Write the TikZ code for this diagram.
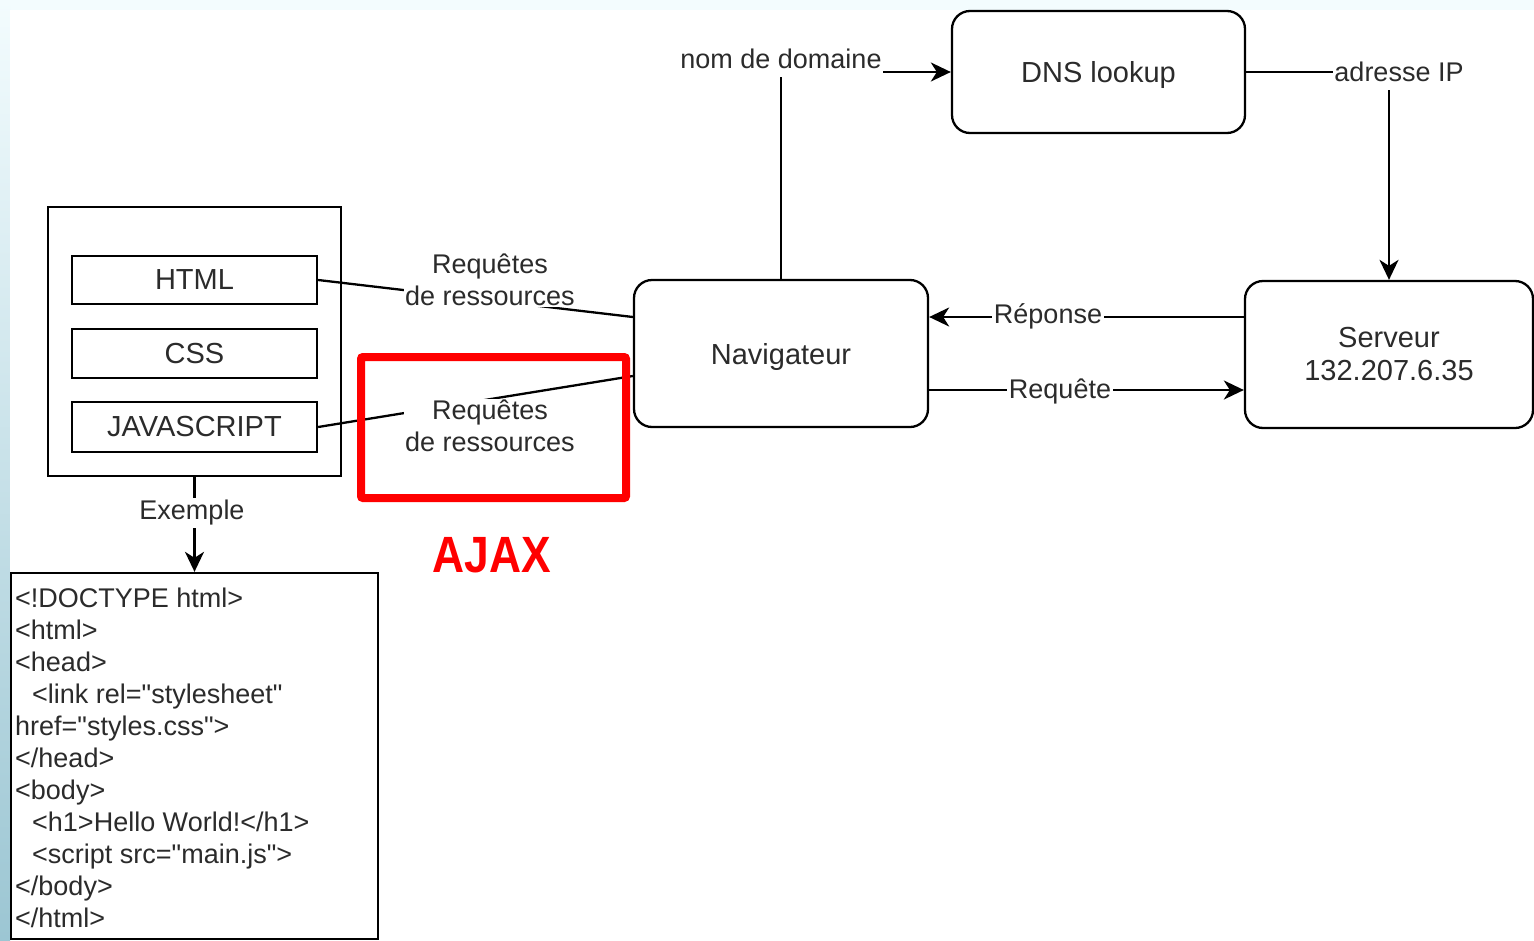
\documentclass[tikz,border=0pt]{standalone}
\usepackage{fontspec}
\setmainfont{Liberation Sans}
\usetikzlibrary{arrows.meta}
\definecolor{ink}{HTML}{2B2B2B}
\definecolor{edgecyan}{HTML}{F3FCFE}
\definecolor{stripmid}{HTML}{E2F1F5}
\definecolor{stripbot}{HTML}{9CC6D3}
\definecolor{ajaxred}{HTML}{FF0000}
\newcommand\boxfnt{\fontsize{29}{33}\selectfont}
\newcommand\lblfnt{\fontsize{27}{32}\selectfont}
\newcommand\dq{\textquotedbl{}}
\begin{document}
\begin{tikzpicture}[x=1pt,y=-1pt,
  rbox/.style={draw=black, line width=2.3pt, rounded corners=18pt, fill=white,
               text=ink, font=\boxfnt, align=center, inner sep=0pt},
  onetext/.style={text height=21pt, text depth=0pt},
  sbox/.style={draw=black, line width=2.3pt, fill=white, text=ink,
               font=\boxfnt, inner sep=0pt},
  conn/.style={draw=black, line width=2.3pt,
               -{Stealth[length=20pt,width=19pt,inset=6pt]}},
  link/.style={draw=black, line width=2.3pt},
  elabel/.style={fill=white, text=ink, font=\lblfnt, inner sep=1.5pt, align=center},
  elabelone/.style={elabel, anchor=base, text height=20pt, text depth=7pt},
  codeline/.style={anchor=base west, inner sep=0pt, text=ink, font=\lblfnt},
]
\useasboundingbox (0,0) rectangle (1534,940);
% page background with the tinted left strip
\fill[edgecyan] (0,0) rectangle (1534,940);
\shade[top color=edgecyan, middle color=stripmid, bottom color=stripbot]
  (0,0) rectangle (10,940);
\fill[white] (10,10) rectangle (1534,940);

% page resources
\node[sbox, minimum width=293, minimum height=269] (page) at (194.5,341.5) {};
\node[sbox, minimum width=245, minimum height=48] (html) at (194.5,280) {HTML};
\node[sbox, minimum width=245, minimum height=49] (css) at (194.5,353.5) {CSS};
\node[sbox, minimum width=245, minimum height=50] (js) at (194.5,427) {JAVASCRIPT};

% example document
\node[sbox, minimum width=367, minimum height=366] (code) at (194.5,756) {};
\node[codeline] (l1)  at (15,607) {<!DOCTYPE html>};
\node[codeline] (l2)  at (15,639) {<html>};
\node[codeline] (l3)  at (15,671) {<head>};
\node[codeline] (l4)  at (32,703) {<link rel=\dq stylesheet\dq};
\node[codeline] (l5)  at (15,735) {href=\dq styles.css\dq>};
\node[codeline] (l6)  at (15,767) {</head>};
\node[codeline] (l7)  at (15,799) {<body>};
\node[codeline] (l8)  at (32,831) {<h1>Hello World!</h1>};
\node[codeline] (l9)  at (32,863) {<script src=\dq main.js\dq>};
\node[codeline] (l10) at (15,895) {</body>};
\node[codeline] (l11) at (15,927) {</html>};

% browser, DNS and server
\node[rbox, onetext, minimum width=294, minimum height=147] (nav) at (781,353.5) {Navigateur};
\node[rbox, onetext, minimum width=293, minimum height=122] (dns) at (1098.5,72) {DNS lookup};
\node[rbox, minimum width=288, minimum height=147] (srv) at (1389,354.5) {Serveur\\132.207.6.35};

% connectors
\draw[conn] (nav.north) |- (dns.west);
\draw[conn] (dns.east) -| (srv.north);
\draw[conn] ([yshift=37.5pt]srv.west) -- ([yshift=36.5pt]nav.east);
\draw[conn] ([yshift=-36.5pt]nav.east) -- ([yshift=-35.5pt]srv.west);
\draw[link] (html.east) -- ([yshift=36.5pt]nav.west);
\draw[link] (js.east) -- ([yshift=-22.5pt]nav.west);
\draw[conn] (page.south) -- (code.north);

% connector labels
\node[elabelone] (lbldom) at (781,68) {nom de domaine};
\node[elabelone] (lblip)  at (1399,81) {adresse IP};
\node[elabelone] (lblrep) at (1048,323) {Réponse};
\node[elabelone] (lblreq) at (1060,398) {Requête};
\node[elabelone] (lblex)  at (192,519) {Exemple};
\node[elabel] (lblres1) at (490,280) {Requêtes\\de ressources};
\node[elabel] (lblres2) at (490,426) {Requêtes\\de ressources};

% AJAX highlight
\node[draw=ajaxred, line width=8pt, rounded corners=2pt, minimum width=265,
      minimum height=141, inner sep=0pt] (ajaxbox) at (493.5,427.5) {};
\node[text=ajaxred, inner sep=0pt, anchor=base,
      font=\fontsize{51}{51}\selectfont\bfseries] (ajax) at (492,572)
      {\scalebox{0.87}[1]{AJAX}};
\end{tikzpicture}
\end{document}
